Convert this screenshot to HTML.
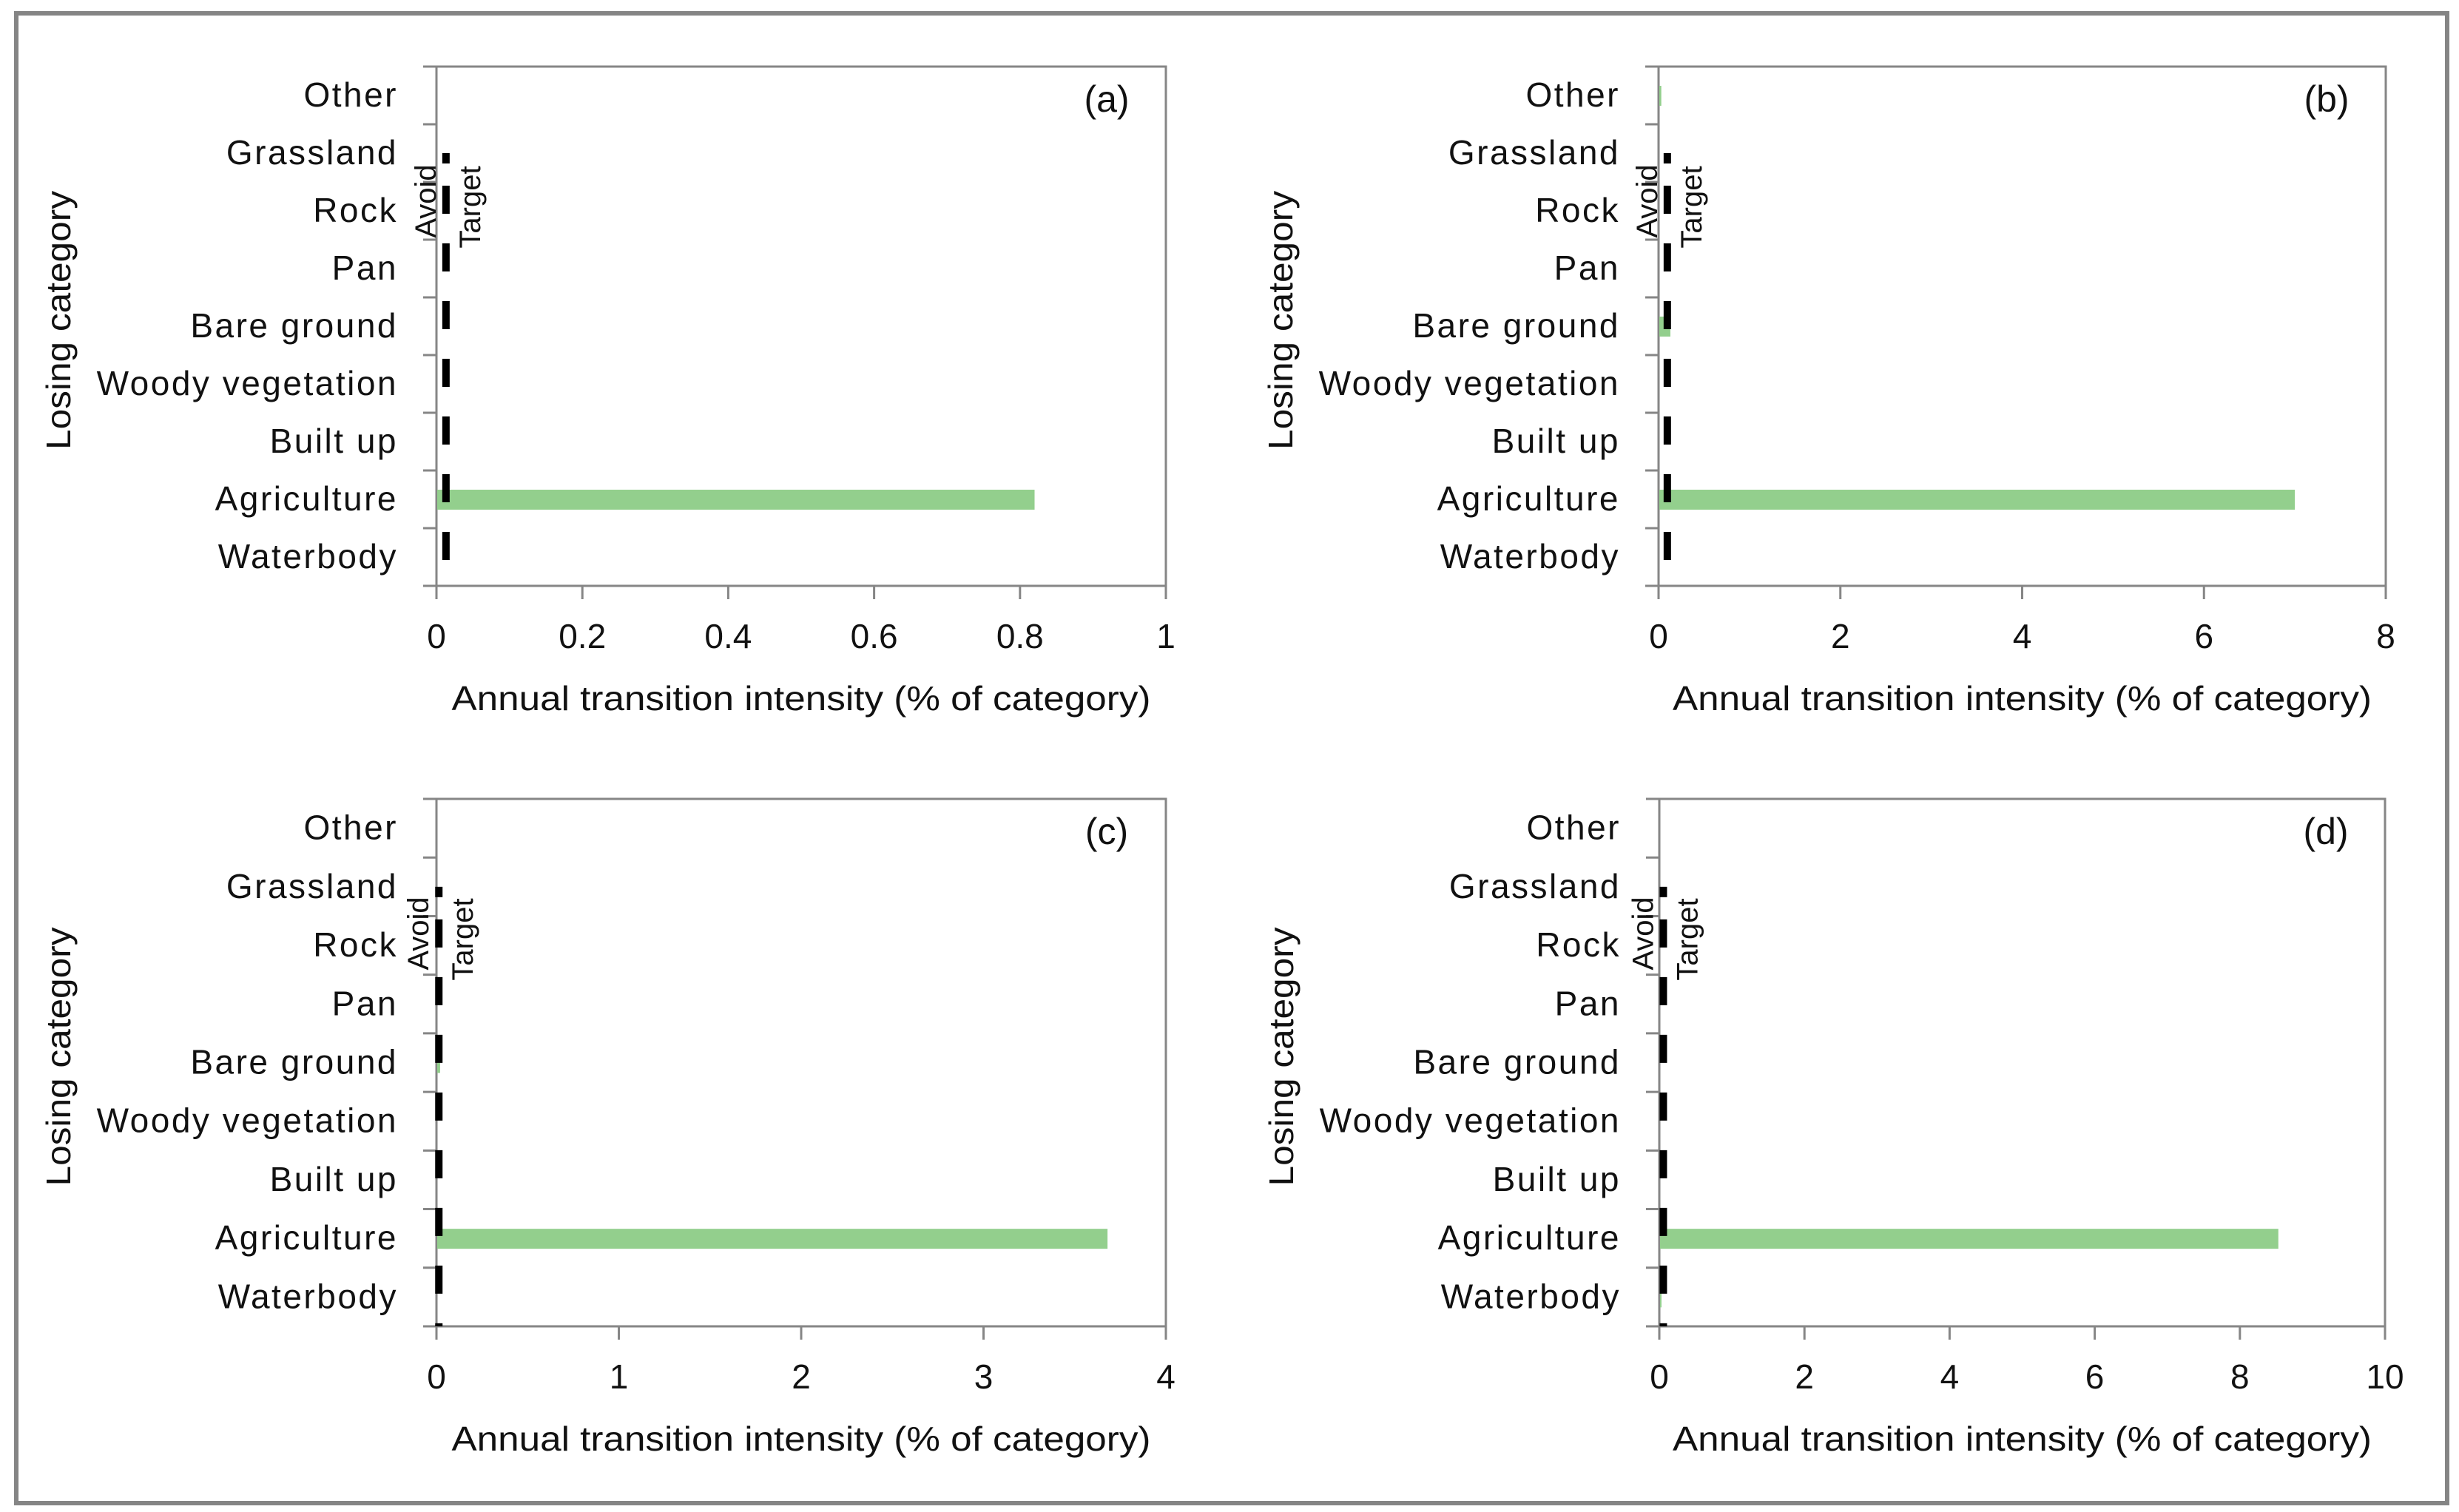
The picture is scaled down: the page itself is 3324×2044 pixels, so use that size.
<!DOCTYPE html>
<html><head><meta charset="utf-8"><style>
html,body{margin:0;padding:0;background:#fff;}
svg{display:block;font-family:"Liberation Sans",sans-serif;}
</style></head><body>
<svg id="chart" width="3324" height="2044" viewBox="0 0 3324 2044" xmlns="http://www.w3.org/2000/svg">
<rect x="22" y="18" width="3286" height="2014" fill="#fff" stroke="#858585" stroke-width="6"/>
</svg>
<script>
const categories = ["Waterbody","Agriculture","Built up","Woody vegetation","Bare ground","Pan","Rock","Grassland","Other"];
const panelLabels = ["(a)","(b)","(c)","(d)"];
const xMaxes = [1, 8, 4, 10];
const xTicksA = [0, 0.2, 0.4, 0.6, 0.8, 1];
const xTicksB = [0, 2, 4, 6, 8];
const xTicksC = [0, 1, 2, 3, 4];
const xTicksD = [0, 2, 4, 6, 8, 10];
const valuesA = [0, 0.82, 0, 0, 0, 0, 0, 0, 0];
const valuesB = [0, 7.0, 0, 0, 0.13, 0, 0, 0, 0.03];
const valuesC = [0, 3.68, 0, 0, 0.02, 0, 0, 0, 0];
const valuesD = [0.03, 8.53, 0, 0, 0, 0, 0, 0, 0];
const uniformIntensity = [0.011, 0.08, 0.005, 0.035];

const NS = "http://www.w3.org/2000/svg";
const svg = document.getElementById("chart");
function mk(tag, attrs, parent){
  const e = document.createElementNS(NS, tag);
  for (const k in attrs) e.setAttribute(k, attrs[k]);
  (parent||svg).appendChild(e);
  return e;
}
const panels = [
  {L:590, R:1576, T:90, B:792, ticks:xTicksA, vals:valuesA},
  {L:2242, R:3225, T:90, B:792, ticks:xTicksB, vals:valuesB},
  {L:590, R:1576, T:1080, B:1793, ticks:xTicksC, vals:valuesC},
  {L:2243, R:3224, T:1080, B:1793, ticks:xTicksD, vals:valuesD}
];
panels.forEach((p, i) => {
  const g = mk("g", {});
  
  
  const xs = v => p.L + (v / xMaxes[i]) * (p.R - p.L);
  const n = categories.length;
  const band = (p.B - p.T) / n;
  const yc = k => p.B - band * (k + 0.5);
  const fr = mk("rect", {x:p.L, y:p.T, width:p.R-p.L, height:p.B-p.T, fill:"none", stroke:"#868686", "stroke-width":3}, g);
  
  
  for (let k = 0; k <= n; k++) {
    const y = p.B - band * k;
    const t = mk("line", {x1:p.L-18, x2:p.L, y1:y, y2:y, stroke:"#868686", "stroke-width":3}, g);
    
    
  }
  categories.forEach((c, k) => {
    const t = mk("text", {x:p.L-52, y:yc(k)+15, "text-anchor":"end", "font-size":46, "letter-spacing":2.5, fill:"#111"}, g);
    t.textContent = c;
    
    
  });
  p.ticks.forEach(v => {
    const x = xs(v);
    const t = mk("line", {x1:x, x2:x, y1:p.B, y2:p.B+18, stroke:"#868686", "stroke-width":3}, g);
    
    
    const l = mk("text", {x:x, y:p.B+84, "text-anchor":"middle", "font-size":46, fill:"#111"}, g);
    l.textContent = String(v);
    
    
  });
  p.vals.forEach((v, k) => {
    if (v <= 0) return;
    const b = mk("rect", {x:p.L+1, y:yc(k)-13, width:Math.max(xs(v)-p.L-1,1), height:27, fill:"#93cf8d"}, g);
    
    
  });
  const ux = xs(uniformIntensity[i]) + 2;
  const top = p.B - band * 7.5 + 4;
  const dl = mk("line", {x1:ux, x2:ux, y1:top, y2:p.B, stroke:"#000", "stroke-width":10, "stroke-dasharray":"38 40", "stroke-dashoffset":"-40"}, g);
  
  
  const dot = mk("rect", {x:ux-5, y:top-4, width:10, height:14, fill:"#000"}, g);
  
  
  const yA = p.T + 182;
  const av = mk("text", {x:0, y:0, "font-size":40, fill:"#111", "text-anchor":"middle", transform:`translate(${ux-14},${yA}) rotate(-90)`}, g);
  av.textContent = "Avoid";
  
  
  const tg = mk("text", {x:0, y:0, "font-size":40, fill:"#111", "text-anchor":"middle", transform:`translate(${ux+46},${yA+8}) rotate(-90)`}, g);
  tg.textContent = "Target";
  
  
  const pl = mk("text", {x:p.R-80, y:p.T+61, "text-anchor":"middle", "font-size":50, fill:"#111"}, g);
  pl.textContent = panelLabels[i];
  
  
  const xt = mk("text", {x:(p.L+p.R)/2, y:p.B+168, "text-anchor":"middle", "font-size":46, fill:"#111", textLength:945, lengthAdjust:"spacingAndGlyphs"}, g);
  xt.textContent = "Annual transition intensity (% of category)";
  
  
  const yx = p.L - 495;
  const yt = mk("text", {x:0, y:0, "text-anchor":"middle", "font-size":46, fill:"#111", textLength:350, lengthAdjust:"spacingAndGlyphs", transform:`translate(${yx},${(p.T+p.B)/2 - 8}) rotate(-90)`}, g);
  yt.textContent = "Losing category";
  
  
});
</script>
</body></html>
